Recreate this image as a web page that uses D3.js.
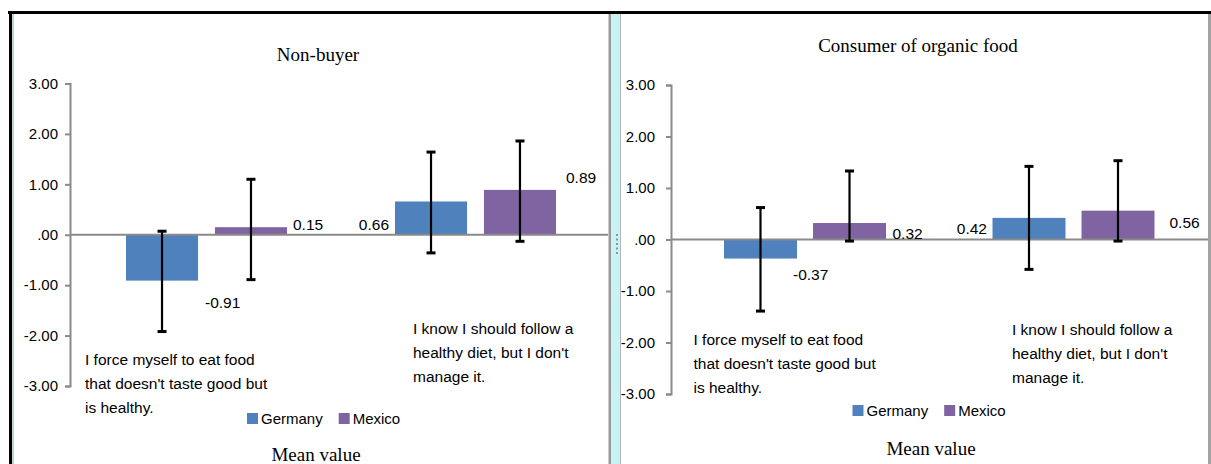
<!DOCTYPE html>
<html>
<head>
<meta charset="utf-8">
<script src="https://cdn.jsdelivr.net/npm/d3@7"></script>
<style>
  html, body { margin: 0; padding: 0; background: #fff; }
  svg { display: block; }
</style>
</head>
<body>
<svg id="chart" width="1211" height="464"></svg>
<script>
// ---- data ----
const categories = [
  ["I force myself to eat food", "that doesn't taste good but", "is healthy."],
  ["I know I should follow a", "healthy diet, but I don't", "manage it."]
];
const seriesNames = ["Germany", "Mexico"];
const yTicks = [3, 2, 1, 0, -1, -2, -3];

// Non-buyer
const nonBuyerGermany = [-0.91, 0.66];
const nonBuyerMexico = [0.15, 0.89];
const nonBuyerGermanyHigh = [0.07, 1.64];
const nonBuyerGermanyLow = [-1.92, -0.36];
const nonBuyerMexicoHigh = [1.10, 1.86];
const nonBuyerMexicoLow = [-0.89, -0.13];

// Consumer of organic food
const organicGermany = [-0.37, 0.42];
const organicMexico = [0.32, 0.56];
const organicGermanyHigh = [0.62, 1.42];
const organicGermanyLow = [-1.39, -0.58];
const organicMexicoHigh = [1.33, 1.53];
const organicMexicoLow = [-0.03, -0.03];

const colors = { Germany: "#4F81BD", Mexico: "#8064A2" };

// two decimals with a plain hyphen for negatives
const fmt = d => (d < 0 ? "-" : "") + Math.abs(d).toFixed(2);
const tickFmt = d => d === 0 ? ".00" : fmt(d);

// ---- panel layout ----
const panels = [
  {
    title: "Non-buyer", titleX: 318, titleY: 61,
    footer: "Mean value", footerX: 316, footerY: 461,
    axisX: 70, endX: 608, yTop: 83.5, yBottom: 386,
    innerRange: [56, 217], innerPad: 0.19,
    tickLabelGap: 12,
    values: { Germany: nonBuyerGermany, Mexico: nonBuyerMexico },
    high: { Germany: nonBuyerGermanyHigh, Mexico: nonBuyerMexicoHigh },
    low: { Germany: nonBuyerGermanyLow, Mexico: nonBuyerMexicoLow },
    // value label offsets: [dx from bar centre, dy from zero line, anchor]
    labelPos: {
      Germany: [[43, 73.5, "start"], [-42, -5, "end"]],
      Mexico: [[42, -4.5, "start"], [46, -51.5, "start"]]
    },
    catLabel: [[15, 365], [74, 334]],
    legend: { x: 247, y: 413 }
  },
  {
    title: "Consumer of organic food", titleX: 918, titleY: 52,
    footer: "Mean value", footerX: 931, footerY: 455,
    axisX: 671, endX: 1208, yTop: 85, yBottom: 394,
    innerRange: [53, 215], innerPad: 0.18,
    tickLabelGap: 16,
    values: { Germany: organicGermany, Mexico: organicMexico },
    high: { Germany: organicGermanyHigh, Mexico: organicMexicoHigh },
    low: { Germany: organicGermanyLow, Mexico: organicMexicoLow },
    labelPos: {
      Germany: [[32.5, 40, "start"], [-42, -6, "end"]],
      Mexico: [[43, -1, "start"], [51.5, -11.5, "start"]]
    },
    catLabel: [[22.5, 344.5], [72.5, 335]],
    legend: { x: 852.5, y: 405 }
  }
];

const svg = d3.select("#chart");
const sansFont = "'Liberation Sans', Arial, sans-serif";
const serifFont = "'Liberation Serif', 'Times New Roman', serif";
const axisColor = "#8a8a8a";

// ---- frame ----
svg.append("rect").attr("x", 0).attr("y", 0).attr("width", 1211).attr("height", 464).attr("fill", "#fff");
// divider between the two charts
svg.append("rect").attr("x", 611).attr("y", 13).attr("width", 9).attr("height", 451).attr("fill", "#c9f3f3");
svg.append("rect").attr("x", 608.5).attr("y", 13).attr("width", 2.5).attr("height", 451).attr("fill", "#9a9a9a");
svg.append("rect").attr("x", 620).attr("y", 13).attr("width", 1).attr("height", 451).attr("fill", "#b5b5b5");
// resize handle dots
svg.selectAll(".dot").data(d3.range(5)).join("rect")
  .attr("x", 616).attr("y", d => 234 + d * 4.5).attr("width", 2).attr("height", 2).attr("fill", "#8a9a9a");
// right edge
svg.append("rect").attr("x", 1208).attr("y", 13).attr("width", 3).attr("height", 451).attr("fill", "#a3a3a3");
// left inner edge
svg.append("rect").attr("x", 12).attr("y", 13).attr("width", 2).attr("height", 451).attr("fill", "#bcd6d6");
// black outer lines
svg.append("rect").attr("x", 8).attr("y", 11).attr("width", 1203).attr("height", 3).attr("fill", "#000");
svg.append("rect").attr("x", 9).attr("y", 11).attr("width", 3).attr("height", 453).attr("fill", "#000");

// ---- panels ----
panels.forEach(p => {
  const g = svg.append("g");
  const y = d3.scaleLinear().domain([-3, 3]).range([p.yBottom, p.yTop]);
  const x0 = d3.scaleBand().domain(d3.range(categories.length)).range([p.axisX, p.endX]).padding(0);
  const x1 = d3.scaleBand().domain(seriesNames).range(p.innerRange).paddingInner(p.innerPad).paddingOuter(0);

  // title
  g.append("text").attr("x", p.titleX).attr("y", p.titleY).attr("text-anchor", "middle")
    .attr("font-family", serifFont).attr("font-size", 19).attr("fill", "#000").text(p.title);

  // y axis
  const yAxis = d3.axisLeft(y).tickValues(yTicks).tickSize(5).tickFormat(tickFmt);
  const ya = g.append("g").attr("transform", `translate(${p.axisX},0)`).call(yAxis);
  ya.select(".domain").attr("stroke", axisColor).attr("stroke-width", 2);
  ya.selectAll(".tick line").attr("stroke", axisColor).attr("stroke-width", 2);
  ya.selectAll(".tick text").attr("x", -p.tickLabelGap).attr("fill", "#000")
    .attr("font-family", sansFont).attr("font-size", 15);

  // bars
  seriesNames.forEach(s => {
    const vals = p.values[s];
    g.selectAll(null).data(vals).join("rect")
      .attr("x", (d, i) => x0(i) + x1(s))
      .attr("width", x1.bandwidth())
      .attr("y", d => y(Math.max(0, d)))
      .attr("height", d => Math.abs(y(d) - y(0)))
      .attr("fill", colors[s]);
  });

  // zero line
  g.append("line").attr("x1", p.axisX).attr("x2", p.endX).attr("y1", y(0)).attr("y2", y(0))
    .attr("stroke", axisColor).attr("stroke-width", 2);

  // error bars
  seriesNames.forEach(s => {
    const hi = p.high[s], lo = p.low[s];
    hi.forEach((h, i) => {
      const cx = x0(i) + x1(s) + x1.bandwidth() / 2;
      const eg = g.append("g").attr("stroke", "#000").attr("stroke-width", 2.2);
      eg.append("line").attr("x1", cx).attr("x2", cx).attr("y1", y(h)).attr("y2", y(lo[i]));
      eg.append("line").attr("x1", cx - 4.5).attr("x2", cx + 4.5).attr("y1", y(h)).attr("y2", y(h)).attr("stroke-width", 3);
      eg.append("line").attr("x1", cx - 4.5).attr("x2", cx + 4.5).attr("y1", y(lo[i])).attr("y2", y(lo[i])).attr("stroke-width", 3);
    });
  });

  // value labels
  seriesNames.forEach(s => {
    p.values[s].forEach((v, i) => {
      const [dx, dy, anchor] = p.labelPos[s][i];
      const cx = x0(i) + x1(s) + x1.bandwidth() / 2;
      g.append("text").attr("x", cx + dx).attr("y", y(0) + dy).attr("text-anchor", anchor)
        .attr("font-family", sansFont).attr("font-size", 15.5).attr("fill", "#000")
        .text(fmt(v));
    });
  });

  // category labels
  categories.forEach((lines, i) => {
    const [dx, by] = p.catLabel[i];
    const t = g.append("text").attr("font-family", sansFont).attr("font-size", 15.5).attr("fill", "#000");
    lines.forEach((ln, k) => {
      t.append("tspan").attr("x", x0(i) + dx).attr("y", by + k * 24).text(ln);
    });
  });

  // legend
  let lx = p.legend.x;
  seriesNames.forEach(s => {
    g.append("rect").attr("x", lx).attr("y", p.legend.y).attr("width", 11).attr("height", 11).attr("fill", colors[s]);
    const t = g.append("text").attr("x", lx + 14).attr("y", p.legend.y + 11)
      .attr("font-family", sansFont).attr("font-size", 15).attr("fill", "#000").text(s);
    lx += 14 + t.node().getComputedTextLength() + 16;
  });

  // axis title
  g.append("text").attr("x", p.footerX).attr("y", p.footerY).attr("text-anchor", "middle")
    .attr("font-family", serifFont).attr("font-size", 19).attr("fill", "#000").text(p.footer);
});
</script>
</body>
</html>
